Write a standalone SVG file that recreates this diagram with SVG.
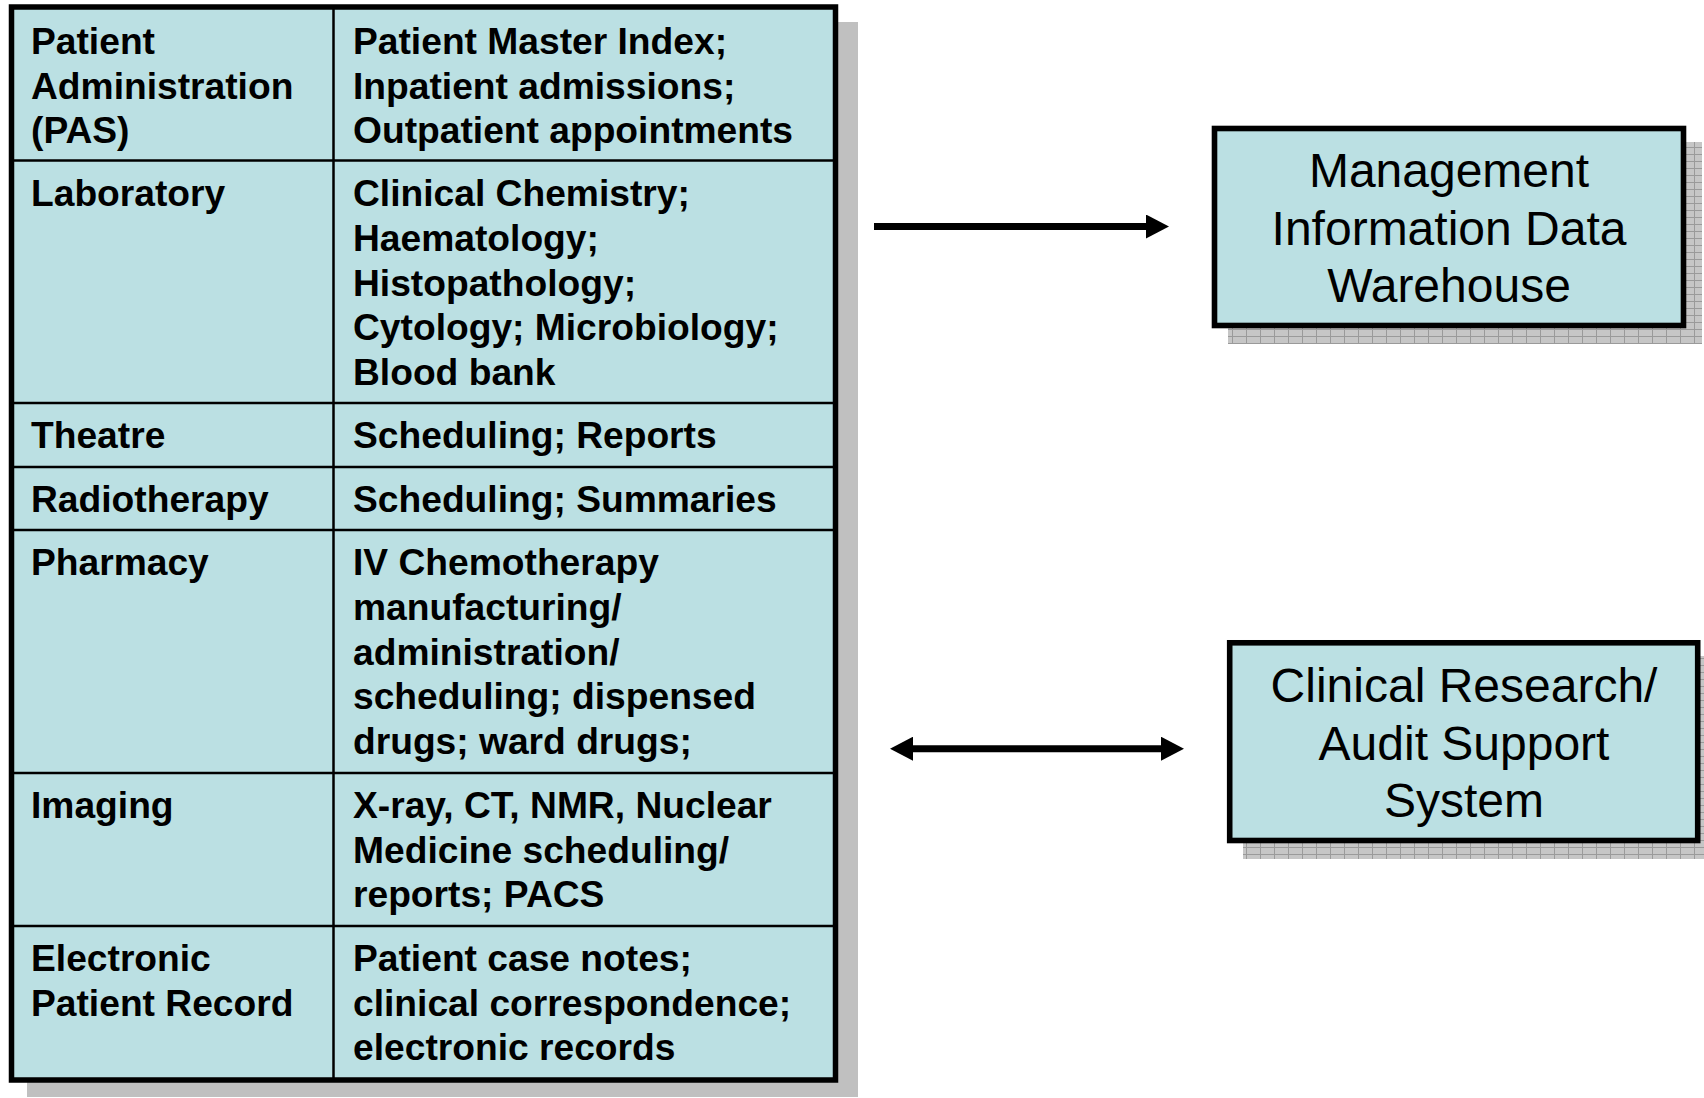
<svg xmlns="http://www.w3.org/2000/svg" width="1704" height="1098" viewBox="0 0 1704 1098">
  <style>
    .cell { fill: #BBE0E3; }
    .outer { fill: none; stroke: #000; stroke-width: 5.5; }
    .grid { stroke: #000; stroke-width: 2.5; fill: none; }
    .tt { font-family: "Liberation Sans", Arial, sans-serif; font-weight: bold; font-size: 37.2px; fill: #000; }
    .bt { font-family: "Liberation Sans", Arial, sans-serif; font-size: 48px; fill: #000; text-anchor: middle; }
    .box { fill: #BBE0E3; stroke: #000; stroke-width: 5.6; }
    .conn { stroke: #000; stroke-width: 7; fill: none; }
  </style>
  <defs>
    <pattern id="shadowGrid" width="14" height="7" patternUnits="userSpaceOnUse">
      <rect width="14" height="7" fill="#c6c6c6"/>
      <path d="M0 0.5H14M0.5 0V7" stroke="#9a9a9a" stroke-width="1"/>
    </pattern>
    <marker id="arrowEnd" markerUnits="userSpaceOnUse" markerWidth="24" markerHeight="24" viewBox="0 0 24 24" refX="0" refY="12" orient="auto-start-reverse">
      <path d="M0 0L23 12L0 24Z" fill="#000"/>
    </marker>
  </defs>

  <rect width="1704" height="1098" fill="#fff"/>

  <g id="systems-table">
    <rect x="27" y="22" width="831" height="1075" fill="#c0c0c0"/>
    <rect class="cell" x="11.5" y="7" width="824" height="1073"/>
    <g class="grid">
      <line x1="333.5" y1="7" x2="333.5" y2="1080"/>
      <line x1="11.5" y1="160.5" x2="835.5" y2="160.5"/>
      <line x1="11.5" y1="403" x2="835.5" y2="403"/>
      <line x1="11.5" y1="467" x2="835.5" y2="467"/>
      <line x1="11.5" y1="530" x2="835.5" y2="530"/>
      <line x1="11.5" y1="773" x2="835.5" y2="773"/>
      <line x1="11.5" y1="926" x2="835.5" y2="926"/>
    </g>
    <rect class="outer" x="11.5" y="7" width="824" height="1073"/>

    <g id="row-pas" class="tt">
      <text x="31" y="54">Patient</text>
      <text x="31" y="98.5">Administration</text>
      <text x="31" y="143">(PAS)</text>
      <text x="353" y="54">Patient Master Index;</text>
      <text x="353" y="98.5">Inpatient admissions;</text>
      <text x="353" y="143">Outpatient appointments</text>
    </g>
    <g id="row-laboratory" class="tt">
      <text x="31" y="206">Laboratory</text>
      <text x="353" y="206">Clinical Chemistry;</text>
      <text x="353" y="250.5">Haematology;</text>
      <text x="353" y="295.5">Histopathology;</text>
      <text x="353" y="340">Cytology; Microbiology;</text>
      <text x="353" y="384.5">Blood bank</text>
    </g>
    <g id="row-theatre" class="tt">
      <text x="31" y="448">Theatre</text>
      <text x="353" y="448">Scheduling; Reports</text>
    </g>
    <g id="row-radiotherapy" class="tt">
      <text x="31" y="512">Radiotherapy</text>
      <text x="353" y="512">Scheduling; Summaries</text>
    </g>
    <g id="row-pharmacy" class="tt">
      <text x="31" y="575">Pharmacy</text>
      <text x="353" y="575">IV Chemotherapy</text>
      <text x="353" y="619.5">manufacturing/</text>
      <text x="353" y="664.5">administration/</text>
      <text x="353" y="709">scheduling; dispensed</text>
      <text x="353" y="753.5">drugs; ward drugs;</text>
    </g>
    <g id="row-imaging" class="tt">
      <text x="31" y="818">Imaging</text>
      <text x="353" y="818">X-ray, CT, NMR, Nuclear</text>
      <text x="353" y="862.5">Medicine scheduling/</text>
      <text x="353" y="907">reports; PACS</text>
    </g>
    <g id="row-epr" class="tt">
      <text x="31" y="971">Electronic</text>
      <text x="31" y="1015.5">Patient Record</text>
      <text x="353" y="971">Patient case notes;</text>
      <text x="353" y="1015.5">clinical correspondence;</text>
      <text x="353" y="1060">electronic records</text>
    </g>
  </g>

  <g id="mi-warehouse">
    <rect x="1228" y="142" width="474" height="202" fill="url(#shadowGrid)"/>
    <rect class="box" x="1214.5" y="128.5" width="469" height="197"/>
    <text class="bt" x="1449" y="187">Management</text>
    <text class="bt" x="1449" y="244.5">Information Data</text>
    <text class="bt" x="1449" y="302">Warehouse</text>
  </g>

  <g id="clinical-research">
    <rect x="1243" y="656" width="470" height="203" fill="url(#shadowGrid)"/>
    <rect class="box" x="1229.7" y="642.8" width="468" height="197.7"/>
    <text class="bt" x="1464" y="702">Clinical Research/</text>
    <text class="bt" x="1464" y="759.5">Audit Support</text>
    <text class="bt" x="1464" y="817">System</text>
  </g>

  <g id="connectors">
    <line class="conn" x1="874" y1="226.5" x2="1146" y2="226.5" marker-end="url(#arrowEnd)"/>
    <line class="conn" x1="913" y1="748.7" x2="1161" y2="748.7" marker-start="url(#arrowEnd)" marker-end="url(#arrowEnd)"/>
  </g>
</svg>
